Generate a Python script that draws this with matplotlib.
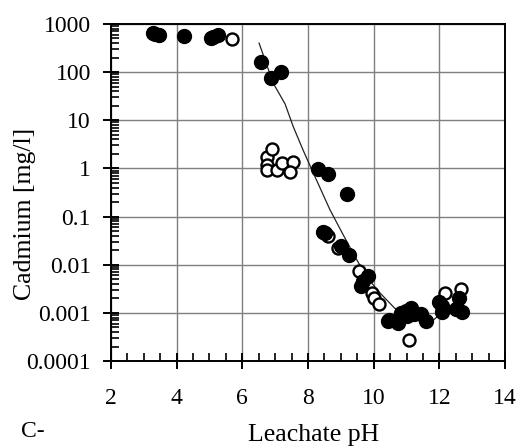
import numpy as np
import matplotlib
matplotlib.use('Agg')
import matplotlib.pyplot as plt
from matplotlib.ticker import LogLocator, FixedLocator, NullFormatter

# filled circles (pH, Cd mg/l)
filled_ph = [3.28, 3.34, 3.45, 4.22, 5.05, 5.12, 5.26,
             6.56, 6.87, 7.18,
             8.30, 8.61, 9.19,
             8.45, 8.51, 9.01, 9.26,
             9.82, 9.69, 9.62,
             10.44, 10.47, 10.73, 10.83, 10.98, 11.03, 11.13, 11.23, 11.43, 11.58,
             11.99, 12.09, 12.09, 12.5, 12.6, 12.7]
filled_cd = [650, 620, 580, 560, 500, 540, 590,
             165, 76, 103,
             0.96, 0.78, 0.30,
             0.047, 0.045, 0.025, 0.0158,
             0.0058, 0.0046, 0.0036,
             0.00068, 0.00071, 0.00063, 0.0010, 0.00108, 0.00085, 0.00126, 0.00093, 0.00093, 0.00067,
             0.00170, 0.0014, 0.00102, 0.0012, 0.0020, 0.00105]

# open circles
open_ph = [3.45, 5.69,
           6.74, 6.89, 6.74, 6.74, 7.05, 7.20, 7.53, 7.45,
           8.61, 8.91, 9.56, 9.96, 10.01, 10.17,
           11.08, 12.17, 12.67]
open_cd = [590, 480,
           1.7, 2.5, 1.18, 0.95, 0.93, 1.28, 1.38, 0.85,
           0.040, 0.022, 0.0073, 0.0026, 0.0020, 0.0015,
           0.000275, 0.0026, 0.0032]

# fitted trend line
fit_ph = [6.51, 6.94, 7.30, 7.55, 7.85, 8.21, 8.67, 9.07, 9.43, 9.78, 10.19, 10.64, 11.0, 11.4, 11.76, 12.0, 12.1]
fit_cd = [400, 59, 22, 7.4, 2.4, 0.68, 0.138, 0.042, 0.0148, 0.0056, 0.0026, 0.00125, 0.00095, 0.0008, 0.00066, 0.0009, 0.0010]

plt.rcParams['font.family'] = ['Liberation Serif', 'DejaVu Serif']

fig = plt.figure(figsize=(5.29, 4.48), dpi=100)
ax = fig.add_axes([111 / 529, 1 - 361 / 448, 394 / 529, 337 / 448])

ax.plot(fit_ph, fit_cd, color='#222222', lw=0.9, zorder=2)
ax.scatter(open_ph, open_cd, s=75, facecolors='white', edgecolors='black', linewidths=1.7, zorder=3)
ax.scatter(filled_ph, filled_cd, s=100, color='black', zorder=4)

ax.set_yscale('log')
ax.set_xlim(2, 14)
ax.set_ylim(0.0001, 1000)

ax.set_xticks([2, 4, 6, 8, 10, 12, 14])
ax.xaxis.set_minor_locator(FixedLocator(np.arange(2, 14.01, 0.5)))
ax.set_yticks([0.0001, 0.001, 0.01, 0.1, 1, 10, 100, 1000])
ax.set_yticklabels(['0.0001', '0.001', '0.01', '0.1', '1', '10', '100', '1000'])
ax.yaxis.set_minor_locator(LogLocator(base=10, subs=np.arange(2, 10), numticks=20))
ax.yaxis.set_minor_formatter(NullFormatter())

ax.grid(True, which='major', color='#7f7f7f', lw=1.0)
ax.set_axisbelow(True)

ax.tick_params(axis='both', which='major', direction='inout', length=11, width=1.4,
               labelsize=17, colors='black')
ax.tick_params(axis='x', which='major', pad=14)
ax.tick_params(axis='y', which='major', pad=9)
ax.tick_params(axis='both', which='minor', direction='in', length=6, width=1.2)

for sp in ax.spines.values():
    sp.set_linewidth(1.4)
    sp.set_color('black')

fig.text(25 / 529, 1 - 214 / 448, 'Cadmium [mg/l]', rotation=90, ha='center', va='center', fontsize=18.5)
fig.text(314 / 529, 1 - 441 / 448, 'Leachate pH', ha='center', va='baseline', fontsize=18.5)
fig.text(21 / 529, 1 - 437 / 448, 'C-', ha='left', va='baseline', fontsize=17)

fig.savefig('out.png', dpi=100)
